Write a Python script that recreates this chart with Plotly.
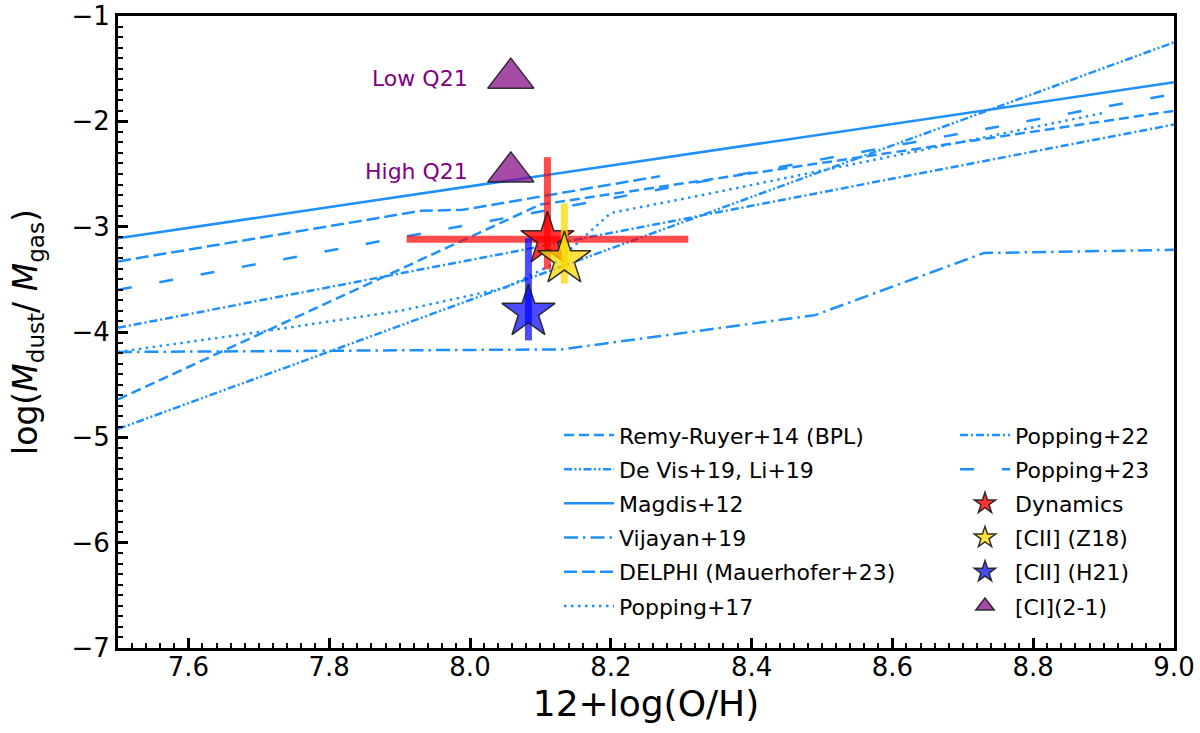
import plotly.graph_objects as go

# dust-to-gas relations, x = 12+log(O/H), y = log(Mdust/Mgas)
rr14_x = [7.5, 8.1, 9.0]
rr14_y = [-4.64, -2.79, -1.90]
devis_x = [7.5, 9.0]
devis_y = [-4.92, -1.25]
magdis_x = [7.5, 9.0]
magdis_y = [-3.11, -1.63]
vijayan_x = [7.5, 8.13, 8.49, 8.73, 9.0]
vijayan_y = [-4.19, -4.165, -3.84, -3.25, -3.22]
delphi_x = [7.5, 7.93, 7.99, 8.27]
delphi_y = [-3.33, -2.85, -2.84, -2.52]
p17_x = [7.5, 7.7, 7.9, 8.05, 8.12, 8.17, 8.2, 8.33, 8.6, 8.9]
p17_y = [-4.19, -4.0, -3.80, -3.58, -3.35, -3.05, -2.87, -2.70, -2.33, -1.92]
p22_x = [7.5, 9.0]
p22_y = [-3.96, -2.03]
p23_x = [7.5, 9.0]
p23_y = [-3.60, -1.74]

# our estimates
dyn_x = [8.11]
dyn_y = [-3.12]
dyn_xerr = [0.2]
dyn_yerr_up = [0.78]
dyn_yerr_down = [0.285]

z18_x = [8.134]
z18_y = [-3.31]
z18_yerr_up = [0.53]
z18_yerr_down = [0.23]

h21_x = [8.083]
h21_y = [-3.81]
h21_yerr_up = [0.70]
h21_yerr_down = [0.27]

ci_x = [8.058, 8.058]
ci_y = [-1.59, -2.48]
ci_labels = ["Low Q21", "High Q21"]

BLUE = "#1E90FF"
FONT = "DejaVu Sans"

models = [
    ("Remy-Ruyer+14 (BPL)", rr14_x, rr14_y, "10px,5px", "legend"),
    ("De Vis+19, Li+19", devis_x, devis_y, "8px,2.5px,2px,2.5px,2px,2.5px", "legend"),
    ("Magdis+12", magdis_x, magdis_y, "solid", "legend"),
    ("Vijayan+19", vijayan_x, vijayan_y, "14px,5px,2.5px,5px", "legend"),
    ("DELPHI (Mauerhofer+23)", delphi_x, delphi_y, "13px,5px", "legend"),
    ("Popping+17", p17_x, p17_y, "2.5px,4.5px", "legend"),
    ("Popping+22", p22_x, p22_y, "8px,3px,2px,3px", "legend2"),
    ("Popping+23", p23_x, p23_y, "14px,28px", "legend2"),
]

fig = go.Figure()

for name, xs, ys, dash, leg in models:
    fig.add_trace(go.Scatter(x=xs, y=ys, mode="lines", name=name, legend=leg, legendgroup=name,
                             line=dict(color=BLUE, width=2.5, dash=dash)))

edge = dict(color="rgba(30,30,30,0.9)", width=1.5)

fig.add_trace(go.Scatter(
    x=dyn_x, y=dyn_y, mode="markers", name="Dynamics", legend="legend2", legendgroup="dyn",
    marker=dict(symbol="star", size=40, color="rgba(255,0,0,0.8)", line=edge),
    error_x=dict(type="data", array=dyn_xerr, color="rgba(255,0,0,0.7)", thickness=7, width=0),
    error_y=dict(type="data", symmetric=False, array=dyn_yerr_up, arrayminus=dyn_yerr_down,
                 color="rgba(255,0,0,0.7)", thickness=7, width=0)))

fig.add_trace(go.Scatter(
    x=z18_x, y=z18_y, mode="markers", name="[CII] (Z18)", legend="legend2", legendgroup="z18",
    marker=dict(symbol="star", size=40, color="rgba(255,215,0,0.75)", line=edge),
    error_y=dict(type="data", symmetric=False, array=z18_yerr_up, arrayminus=z18_yerr_down,
                 color="rgba(255,215,0,0.75)", thickness=7, width=0)))

fig.add_trace(go.Scatter(
    x=h21_x, y=h21_y, mode="markers", name="[CII] (H21)", legend="legend2", legendgroup="h21",
    marker=dict(symbol="star", size=40, color="rgba(0,0,255,0.7)", line=edge),
    error_y=dict(type="data", symmetric=False, array=h21_yerr_up, arrayminus=h21_yerr_down,
                 color="rgba(0,0,255,0.7)", thickness=7, width=0)))

fig.add_trace(go.Scatter(
    x=ci_x, y=ci_y, mode="markers", name="[CI](2-1)", legend="legend2", legendgroup="ci",
    marker=dict(symbol="triangle-up", size=40, color="rgba(128,0,128,0.7)", line=edge)))

for xv, yv, lab in zip(ci_x, ci_y, ci_labels):
    fig.add_annotation(x=8.0, y=yv, text=lab, showarrow=False, xanchor="right",
                       yanchor="middle", font=dict(size=22, color="purple", family=FONT))

axis_common = dict(showline=True, linecolor="black", linewidth=3, mirror=True,
                   showgrid=False, zeroline=False, ticks="inside", ticklen=10,
                   tickwidth=3, tickcolor="black", automargin=False,
                   ticklabeloverflow="allow",
                   tickfont=dict(size=26, color="black", family=FONT))

fig.update_xaxes(range=[7.5, 9.0], dtick=0.2, tick0=7.6, tickformat=".1f",
                 ticklabelstandoff=-6,
                 minor=dict(ticks="inside", dtick=0.02, ticklen=5, tickwidth=2, tickcolor="black"),
                 title=dict(text="12+log(O/H)", font=dict(size=36, color="black", family=FONT),
                            standoff=10),
                 **axis_common)
fig.update_yaxes(range=[-7, -1], dtick=1,
                 minor=dict(ticks="inside", dtick=0.1, ticklen=5, tickwidth=2, tickcolor="black"),
                 title=dict(text="log(<i>M</i><sub>dust</sub>/ <i>M</i><sub>gas</sub>)",
                            font=dict(size=33, color="black", family=FONT), standoff=24),
                 **axis_common)

legend_common = dict(font=dict(size=22, color="black", family=FONT), bgcolor="rgba(0,0,0,0)",
                     borderwidth=0, yanchor="top", xanchor="left", y=0.37,
                     itemsizing="trace", itemwidth=50, tracegroupgap=2.6)

fig.update_layout(
    width=1200, height=733,
    margin=dict(l=118, r=26, t=16, b=85),
    plot_bgcolor="white", paper_bgcolor="white",
    font=dict(family=FONT, color="black"),
    legend=dict(x=0.4176, **legend_common),
    legend2=dict(x=0.7926, **legend_common),
)

# drop the page's default body margin so the figure fills the window exactly
fig.write_html("out.html", config={"displayModeBar": False},
               post_script="document.body.style.margin = '0';")
